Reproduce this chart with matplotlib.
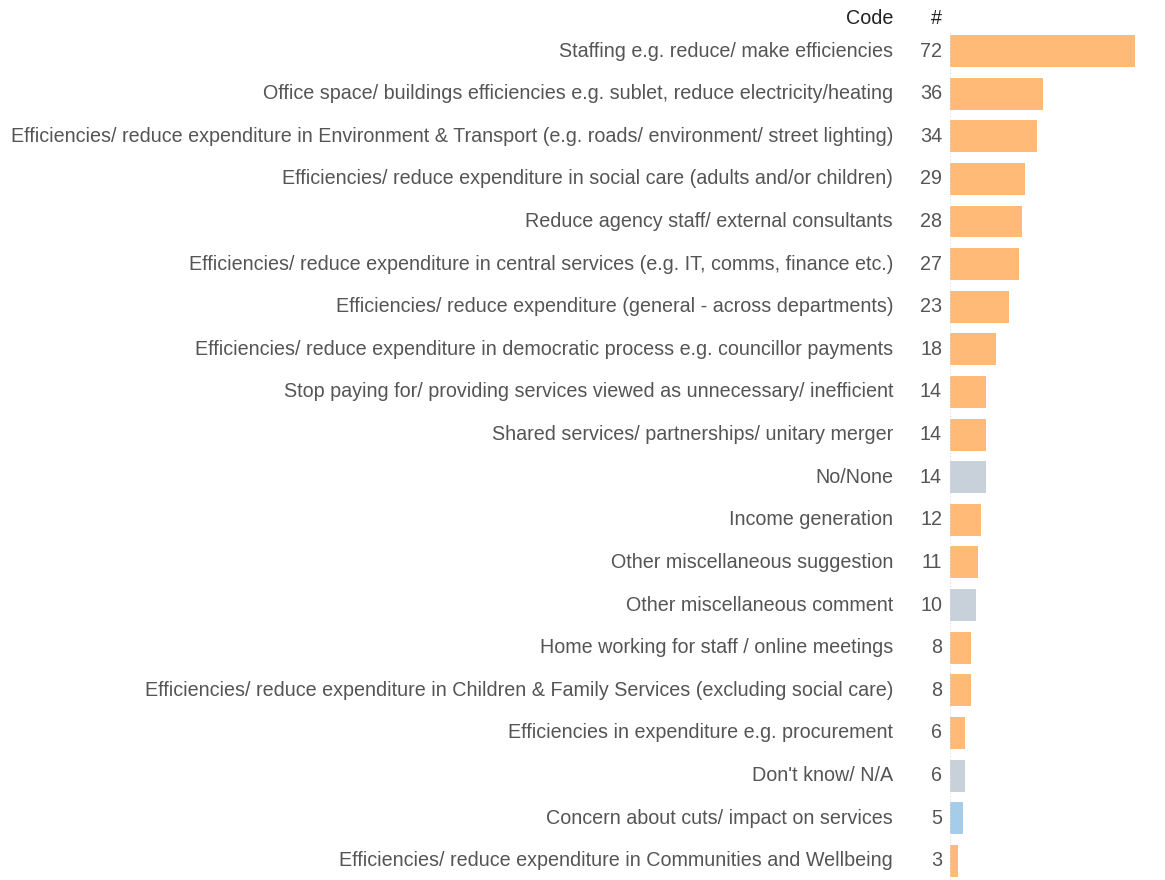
import matplotlib.pyplot as plt

codes = [
    'Staffing e.g. reduce/ make efficiencies',
    'Office space/ buildings efficiencies e.g. sublet, reduce electricity/heating',
    'Efficiencies/ reduce expenditure in Environment & Transport (e.g. roads/ environment/ street lighting)',
    'Efficiencies/ reduce expenditure in social care (adults and/or children)',
    'Reduce agency staff/ external consultants',
    'Efficiencies/ reduce expenditure in central services (e.g. IT, comms, finance etc.)',
    'Efficiencies/ reduce expenditure (general - across departments)',
    'Efficiencies/ reduce expenditure in democratic process e.g. councillor payments',
    'Stop paying for/ providing services viewed as unnecessary/ inefficient',
    'Shared services/ partnerships/ unitary merger',
    'No/None',
    'Income generation',
    'Other miscellaneous suggestion',
    'Other miscellaneous comment',
    'Home working for staff / online meetings',
    'Efficiencies/ reduce expenditure in Children & Family Services (excluding social care)',
    'Efficiencies in expenditure e.g. procurement',
    "Don't know/ N/A",
    'Concern about cuts/ impact on services',
    'Efficiencies/ reduce expenditure in Communities and Wellbeing',
]
counts = [72, 36, 34, 29, 28, 27, 23, 18, 14, 14, 14, 12, 11, 10, 8, 8, 6, 6, 5, 3]
groups = ['s', 's', 's', 's', 's', 's', 's', 's', 's', 's', 'n', 's', 's', 'n', 's', 's', 's', 'n', 'c', 's']

palette = {'s': '#FFBA78', 'n': '#C8D0D9', 'c': '#A5CDE9'}
colors = [palette[g] for g in groups]

plt.rcParams['font.family'] = ['Liberation Sans', 'DejaVu Sans']

fig = plt.figure(figsize=(11.65, 8.8), dpi=100)
ax = fig.add_axes([950 / 1165, 0, 1 - 950 / 1165, 850.3 / 880])

ys = list(range(len(codes)))
ax.barh(ys, counts, height=0.75, color=colors)
ax.set_xlim(0, 83.6)
ax.set_ylim(19.45, -0.5)
ax.axis('off')
ax.axvline(0, color='#DDDDDD', lw=0.8, ls=(0, (1, 2)))

for y, code, n in zip(ys, codes, counts):
    ax.annotate(code, (0, y), xytext=(-57, 0), textcoords='offset pixels',
                ha='right', va='center', fontsize=14.2, color='#555555')
    ax.annotate(str(n), (0, y), xytext=(-8, 0), textcoords='offset pixels',
                ha='right', va='center', fontsize=14.2, color='#555555')

fig.text(893 / 1165, 1 - 18 / 880, 'Code', ha='right', va='center', fontsize=14.2, color='#222222')
fig.text(942 / 1165, 1 - 18 / 880, '#', ha='right', va='center', fontsize=14.2, color='#222222')

fig.savefig('out.png', dpi=100)
